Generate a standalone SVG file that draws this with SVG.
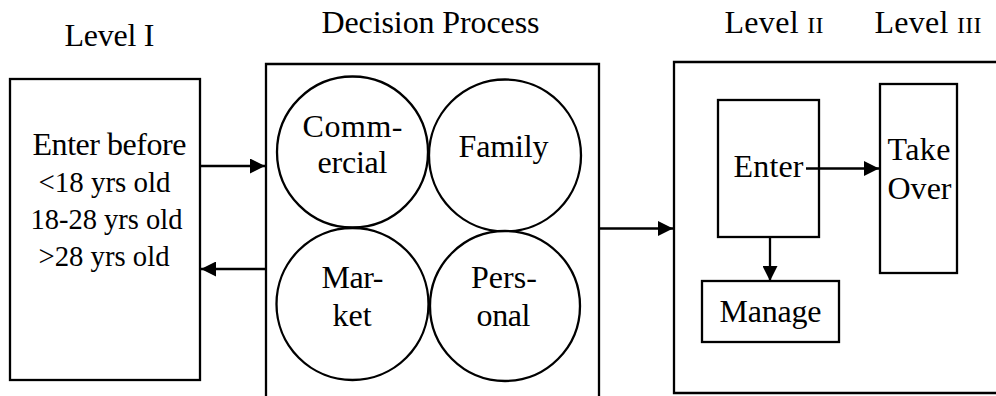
<svg xmlns="http://www.w3.org/2000/svg" width="996" height="396" viewBox="0 0 996 396">
  <style>
    text { font-family: "Liberation Serif", "Times New Roman", serif; font-size: 32px; fill: #000; text-anchor: middle; }
    .age { font-size: 30px; }
    .sc { font-size: 24px; }
    .box { fill: #fff; stroke: #000; stroke-width: 2.3; }
    .frame { fill: none; stroke: #000; stroke-width: 2.3; }
    .circ { fill: #fff; stroke: #000; stroke-width: 2.3; }
    .conn { fill: none; stroke: #000; stroke-width: 2.3; marker-end: url(#arrow); }
  </style>
  <defs>
    <marker id="arrow" markerUnits="userSpaceOnUse" markerWidth="15" markerHeight="15" refX="15" refY="7.5" orient="auto">
      <path d="M0,0 L15,7.5 L0,15 Z" fill="#000"/>
    </marker>
  </defs>
  <rect width="996" height="396" fill="#fff"/>

  <!-- column headings -->
  <g id="headings">
    <text x="109.5" y="46" font-size="31" textLength="90" lengthAdjust="spacing">Level I</text>
    <text x="430.5" y="33" textLength="218" lengthAdjust="spacing">Decision Process</text>
    <text x="774" y="33" textLength="99" lengthAdjust="spacing">Level <tspan class="sc">II</tspan></text>
    <text x="928" y="33" textLength="107" lengthAdjust="spacing">Level <tspan class="sc">III</tspan></text>
  </g>

  <!-- Level I: entry age -->
  <g id="level1">
    <rect class="box" x="10" y="79" width="190" height="301"/>
    <text x="109.5" y="155" font-size="31" textLength="154" lengthAdjust="spacing">Enter before</text>
    <text class="age" x="104.5" y="192" textLength="132" lengthAdjust="spacingAndGlyphs">&lt;18 yrs old</text>
    <text class="age" x="106.5" y="229" textLength="152" lengthAdjust="spacingAndGlyphs">18-28 yrs old</text>
    <text class="age" x="104" y="266" textLength="131" lengthAdjust="spacingAndGlyphs">&gt;28 yrs old</text>
  </g>

  <!-- decision process frame (open at the bottom) -->
  <g id="decision">
    <path class="frame" d="M266,400 L266,64 L599,64 L599,400"/>
  </g>

  <g id="commercial">
    <circle class="circ" cx="352.5" cy="152" r="75.5"/>
    <text x="352.5" y="137" textLength="100" lengthAdjust="spacing">Comm-</text>
    <text x="352.5" y="173" textLength="70" lengthAdjust="spacing">ercial</text>
  </g>
  <g id="family">
    <circle class="circ" cx="505" cy="155.5" r="76"/>
    <text x="503.5" y="157" textLength="90" lengthAdjust="spacing">Family</text>
  </g>
  <g id="market">
    <circle class="circ" cx="352.5" cy="304" r="76"/>
    <text x="352.5" y="288" textLength="62" lengthAdjust="spacing">Mar-</text>
    <text x="352" y="326">ket</text>
  </g>
  <g id="personal">
    <circle class="circ" cx="505" cy="306" r="75"/>
    <text x="504" y="288" textLength="66" lengthAdjust="spacing">Pers-</text>
    <text x="503.5" y="326" textLength="54" lengthAdjust="spacing">onal</text>
  </g>

  <!-- Level II / III frame (runs past the right edge) -->
  <g id="outcome">
    <path class="frame" d="M1000,62 L674,62 L674,393 L1000,393"/>
  </g>
  <g id="enter">
    <rect class="box" x="718" y="100" width="101" height="137"/>
    <text x="768.5" y="177" textLength="70" lengthAdjust="spacing">Enter</text>
  </g>
  <g id="takeover">
    <rect class="box" x="880" y="84" width="77" height="189"/>
    <text x="919" y="160" textLength="63" lengthAdjust="spacing">Take</text>
    <text x="919.5" y="199" textLength="64" lengthAdjust="spacing">Over</text>
  </g>
  <g id="manage">
    <rect class="box" x="702" y="281" width="137" height="61"/>
    <text x="770.5" y="322" textLength="102" lengthAdjust="spacing">Manage</text>
  </g>

  <!-- connectors -->
  <g id="connectors">
    <line class="conn" x1="200" y1="166" x2="265" y2="166"/>
    <line class="conn" x1="266" y1="269" x2="201" y2="269"/>
    <line class="conn" x1="599" y1="228.5" x2="673" y2="228.5"/>
    <line class="conn" x1="806" y1="168.5" x2="879" y2="168.5"/>
    <line class="conn" x1="770" y1="237" x2="770" y2="281"/>
  </g>
</svg>
